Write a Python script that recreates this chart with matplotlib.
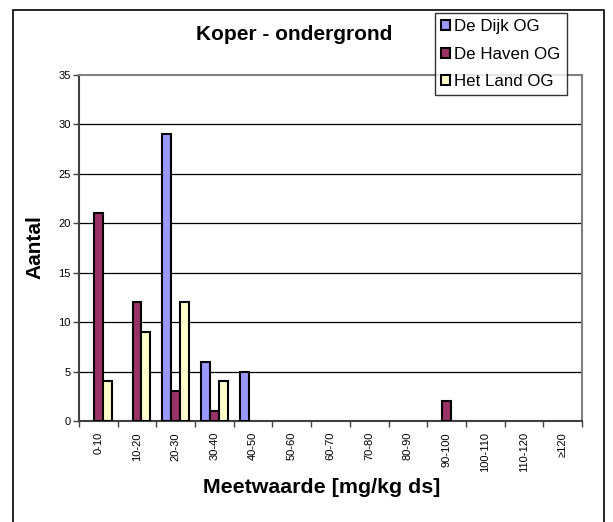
import matplotlib
matplotlib.use("Agg")
import matplotlib.pyplot as plt
import numpy as np
from matplotlib.patches import Patch, Rectangle

# klassen en aantallen per locatie
klassen = ["0-10", "10-20", "20-30", "30-40", "40-50", "50-60", "60-70",
           "70-80", "80-90", "90-100", "100-110", "110-120", "≥120"]
de_dijk = [0, 0, 29, 6, 5, 0, 0, 0, 0, 0, 0, 0, 0]
de_haven = [21, 12, 3, 1, 0, 0, 0, 0, 0, 2, 0, 0, 0]
het_land = [4, 9, 12, 4, 0, 0, 0, 0, 0, 0, 0, 0, 0]
reeksen = ["De Dijk OG", "De Haven OG", "Het Land OG"]
kleuren = ["#9999FF", "#993366", "#FFFFCC"]

plt.rcParams["font.family"] = ["Liberation Sans", "DejaVu Sans"]

fig = plt.figure(figsize=(6.13, 5.22), dpi=100)
ax = fig.add_axes([79 / 613, 1 - 421 / 522, (582 - 79) / 613, (421 - 75) / 522])

# kader om de hele grafiek
fig.patches.append(Rectangle((13 / 613, -0.05), (604 - 13) / 613, 0.05 + 1 - 10 / 522,
                             transform=fig.transFigure, fill=False,
                             edgecolor="black", linewidth=1.2))

x = np.arange(len(klassen))
w = 0.228
for i, (vals, kleur) in enumerate(zip([de_dijk, de_haven, het_land], kleuren)):
    # lege klassen krijgen geen rand
    lw = [1.5 if v > 0 else 0 for v in vals]
    ax.bar(x + (i - 1) * w, vals, width=w, color=kleur, edgecolor="black",
           linewidth=lw, zorder=3)

ax.set_xlim(-0.5, len(klassen) - 0.5)
ax.set_ylim(0, 35)
ax.set_yticks(range(0, 36, 5))
ax.tick_params(axis="y", labelsize=8, length=4, width=1, color="#404040", pad=2)

ax.set_xticks(x)
ax.set_xticklabels(klassen, rotation=90, fontsize=8)
ax.set_xticks(np.arange(-0.5, len(klassen), 1), minor=True)
ax.tick_params(axis="x", which="major", length=0, pad=8)
ax.tick_params(axis="x", which="minor", length=4, width=1, color="#404040")

for yv in range(5, 35, 5):
    ax.axhline(yv, color="black", linewidth=0.9, zorder=1)

for kant in ["left", "bottom"]:
    ax.spines[kant].set_color("#404040")
    ax.spines[kant].set_linewidth(1.5)
for kant in ["top", "right"]:
    ax.spines[kant].set_color("#808080")
    ax.spines[kant].set_linewidth(1.5)

fig.text(294 / 613, 1 - 35 / 522, "Koper - ondergrond", ha="center", va="center",
         fontsize=15, fontweight="bold")
fig.text(322 / 613, 1 - 493 / 522, "Meetwaarde [mg/kg ds]", ha="center",
         va="baseline", fontsize=15.4, fontweight="bold")
fig.text(35 / 613, 1 - 247 / 522, "Aantal", rotation=90, ha="center", va="center",
         fontsize=15, fontweight="bold")

handles = [Patch(facecolor=k, edgecolor="black", linewidth=1.5) for k in kleuren]
leg = fig.legend(handles, reeksen, loc="upper left",
                 bbox_to_anchor=(435 / 613, 1 - 13 / 522), fontsize=12.2,
                 frameon=True, fancybox=False, handlelength=0.55, handleheight=0.55,
                 handletextpad=0.25, borderpad=0.35, labelspacing=0.75,
                 borderaxespad=0)
leg.get_frame().set_edgecolor("black")
leg.get_frame().set_linewidth(1.0)

fig.savefig("out.png", dpi=100)
